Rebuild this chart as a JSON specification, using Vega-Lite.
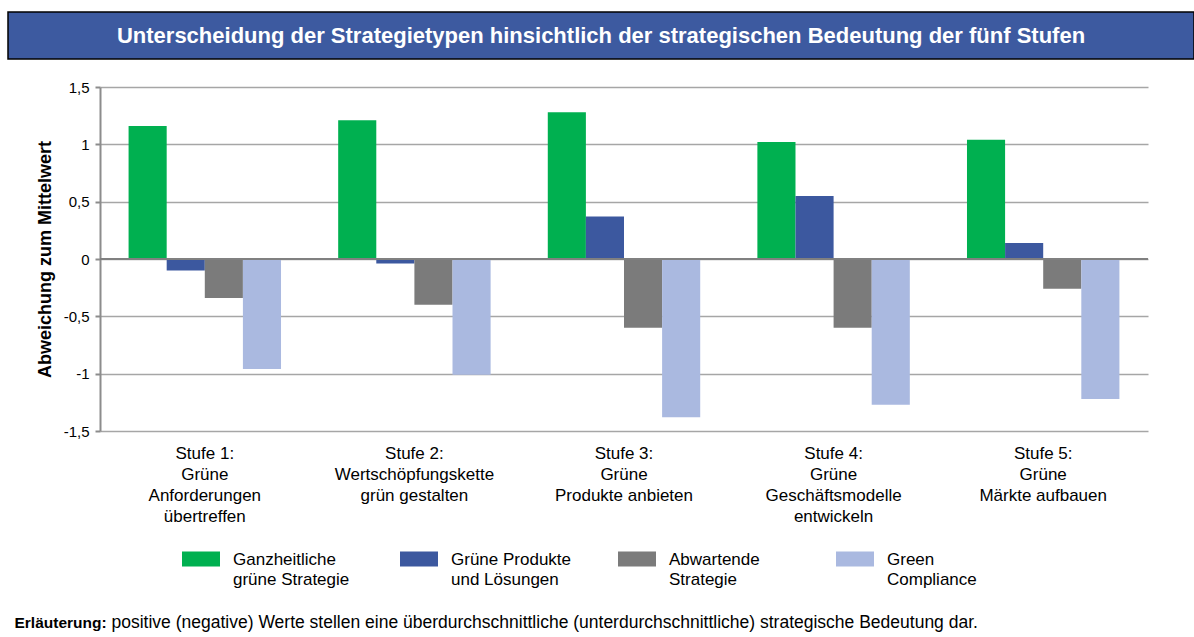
{
  "$schema": "https://vega.github.io/schema/vega-lite/v6.json",
  "padding": {"left": 7, "top": 11, "right": 0, "bottom": 0},
  "background": "white",
  "config": {"font": "Liberation Sans", "view": {"stroke": null}},
  "spacing": 20,
  "vconcat": [
    {
      "width": 1186,
      "height": 47,
      "view": {"fill": "#3D5AA0", "stroke": "#000000", "strokeWidth": 1.5},
      "data": {"values": [{"t": "Unterscheidung der Strategietypen hinsichtlich der strategischen Bedeutung der fünf Stufen"}]},
      "mark": {"type": "text", "color": "#FFFFFF", "fontSize": 22, "fontWeight": "bold", "align": "center", "baseline": "middle"},
      "encoding": {"text": {"field": "t", "type": "nominal"}}
    },
    {
      "spacing": 18,
      "hconcat": [
        {
          "width": 10,
          "height": 10,
          "data": {"values": [{"t": ""}]},
          "mark": {"type": "text"},
          "encoding": {"text": {"field": "t", "type": "nominal"}}
        },
        {
          "width": 1048,
          "height": 344,
          "data": {"values": [
            {"stufe": "Stufe 1:|Grüne|Anforderungen|übertreffen", "typ": "Ganzheitliche|grüne Strategie", "wert": 1.16},
            {"stufe": "Stufe 1:|Grüne|Anforderungen|übertreffen", "typ": "Grüne Produkte|und Lösungen", "wert": -0.10},
            {"stufe": "Stufe 1:|Grüne|Anforderungen|übertreffen", "typ": "Abwartende|Strategie", "wert": -0.34},
            {"stufe": "Stufe 1:|Grüne|Anforderungen|übertreffen", "typ": "Green|Compliance", "wert": -0.96},
            {"stufe": "Stufe 2:|Wertschöpfungskette|grün gestalten", "typ": "Ganzheitliche|grüne Strategie", "wert": 1.21},
            {"stufe": "Stufe 2:|Wertschöpfungskette|grün gestalten", "typ": "Grüne Produkte|und Lösungen", "wert": -0.04},
            {"stufe": "Stufe 2:|Wertschöpfungskette|grün gestalten", "typ": "Abwartende|Strategie", "wert": -0.40},
            {"stufe": "Stufe 2:|Wertschöpfungskette|grün gestalten", "typ": "Green|Compliance", "wert": -1.01},
            {"stufe": "Stufe 3:|Grüne|Produkte anbieten", "typ": "Ganzheitliche|grüne Strategie", "wert": 1.28},
            {"stufe": "Stufe 3:|Grüne|Produkte anbieten", "typ": "Grüne Produkte|und Lösungen", "wert": 0.37},
            {"stufe": "Stufe 3:|Grüne|Produkte anbieten", "typ": "Abwartende|Strategie", "wert": -0.60},
            {"stufe": "Stufe 3:|Grüne|Produkte anbieten", "typ": "Green|Compliance", "wert": -1.38},
            {"stufe": "Stufe 4:|Grüne|Geschäftsmodelle|entwickeln", "typ": "Ganzheitliche|grüne Strategie", "wert": 1.02},
            {"stufe": "Stufe 4:|Grüne|Geschäftsmodelle|entwickeln", "typ": "Grüne Produkte|und Lösungen", "wert": 0.55},
            {"stufe": "Stufe 4:|Grüne|Geschäftsmodelle|entwickeln", "typ": "Abwartende|Strategie", "wert": -0.60},
            {"stufe": "Stufe 4:|Grüne|Geschäftsmodelle|entwickeln", "typ": "Green|Compliance", "wert": -1.27},
            {"stufe": "Stufe 5:|Grüne|Märkte aufbauen", "typ": "Ganzheitliche|grüne Strategie", "wert": 1.04},
            {"stufe": "Stufe 5:|Grüne|Märkte aufbauen", "typ": "Grüne Produkte|und Lösungen", "wert": 0.14},
            {"stufe": "Stufe 5:|Grüne|Märkte aufbauen", "typ": "Abwartende|Strategie", "wert": -0.26},
            {"stufe": "Stufe 5:|Grüne|Märkte aufbauen", "typ": "Green|Compliance", "wert": -1.22}
          ]},
          "layer": [
            {
              "mark": {"type": "bar"},
              "encoding": {
                "x": {
                  "field": "stufe", "type": "nominal", "sort": null, "title": null,
                  "scale": {"paddingInner": 0, "paddingOuter": 0},
                  "axis": {"labelAngle": 0, "domain": false, "ticks": false, "tickSize": 0, "grid": false,
                    "labelExpr": "split(datum.label, '|')", "labelFontSize": 17, "labelLineHeight": 21,
                    "labelBaseline": "top", "labelPadding": 14, "labelColor": "#000000", "labelLimit": 400, "labelOverlap": false}
                },
                "xOffset": {
                  "field": "typ", "type": "nominal",
                  "sort": ["Ganzheitliche|grüne Strategie", "Grüne Produkte|und Lösungen", "Abwartende|Strategie", "Green|Compliance"],
                  "scale": {"paddingInner": 0, "paddingOuter": 0.75}
                },
                "y": {
                  "field": "wert", "type": "quantitative",
                  "scale": {"domain": [-1.5, 1.5], "nice": false, "zero": false},
                  "axis": {"values": [-1.5, -1, -0.5, 0, 0.5, 1, 1.5], "title": "Abweichung zum Mittelwert",
                    "labelExpr": "replace(toString(datum.value), '.', ',')",
                    "labelFontSize": 15, "labelColor": "#000000", "labelPadding": 6,
                    "tickSize": 5, "tickWidth": 2, "tickColor": "#8C8C8C",
                    "domainColor": "#8C8C8C", "domainWidth": 2,
                    "grid": true, "gridColor": "#A6A6A6", "gridWidth": 1.5,
                    "titleFontSize": 18, "titleFontWeight": "bold", "titleColor": "#000000", "titlePadding": 9}
                },
                "color": {
                  "field": "typ", "type": "nominal",
                  "scale": {
                    "domain": ["Ganzheitliche|grüne Strategie", "Grüne Produkte|und Lösungen", "Abwartende|Strategie", "Green|Compliance"],
                    "range": ["#00B050", "#3C589F", "#7B7B7B", "#AAB9E0"]
                  },
                  "legend": {
                    "title": null, "orient": "none", "legendX": 174, "legendY": 528,
                    "direction": "horizontal", "columns": 4, "gridAlign": "all", "columnPadding": 46, "padding": 0,
                    "symbolType": "M-1,-0.395H1V0.395H-1Z", "symbolSize": 1444, "symbolStrokeWidth": 0, "symbolOpacity": 1,
                    "labelExpr": "split(datum.label, '|')", "labelFontSize": 17, "labelColor": "#000000",
                    "labelBaseline": "top", "labelOffset": 13, "labelLimit": 400,
                    "encode": {"labels": {"update": {"dy": {"value": -7}, "lineHeight": {"value": 20}}}}
                  }
                }
              }
            },
            {
              "data": {"values": [{}]},
              "mark": {"type": "rule", "color": "#808080", "strokeWidth": 2},
              "encoding": {"y": {"datum": 0}}
            }
          ]
        }
      ]
    },
    {
      "spacing": 4,
      "hconcat": [
        {
          "width": 2,
          "height": 158,
          "data": {"values": [{"t": ""}]},
          "mark": {"type": "text"},
          "encoding": {"text": {"field": "t", "type": "nominal"}}
        },
        {
          "width": 1,
          "height": 158,
          "data": {"values": [{"t": "Erläuterung:"}]},
          "mark": {"type": "text", "align": "left", "baseline": "middle", "fontSize": 15.5, "fontWeight": "bold", "color": "#000000"},
          "encoding": {"text": {"field": "t", "type": "nominal"}}
        },
        {
          "width": 1,
          "height": 158,
          "data": {"values": [{"t": "positive (negative) Werte stellen  eine überdurchschnittliche (unterdurchschnittliche) strategische Bedeutung  dar."}]},
          "mark": {"type": "text", "align": "left", "baseline": "middle", "fontSize": 17.5, "color": "#000000"},
          "encoding": {"text": {"field": "t", "type": "nominal"}}
        }
      ]
    }
  ]
}
